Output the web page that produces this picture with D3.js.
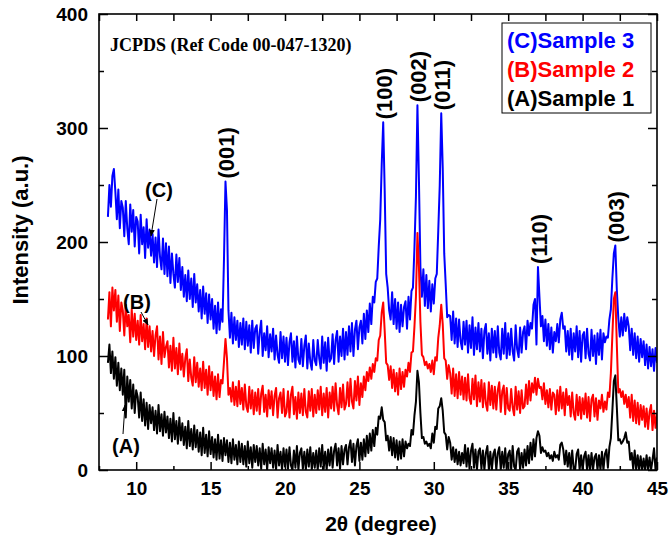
<!DOCTYPE html>
<html>
<head>
<meta charset="utf-8">
<script src="https://cdn.jsdelivr.net/npm/d3@7"></script>
<style>
  body { margin: 0; background: #fff; }
  text { font-family: Arial, "Liberation Sans", sans-serif; font-weight: bold; }
</style>
</head>
<body>
<script>

// scan grid (degrees 2-theta), one value every step
var thetaStart = 8.1,
    thetaStep = 0.1;

// (C) Sample 3, 8.1 .. 45.0
var sampleC = [
  222,250,231,258,264,244,220,246,212,236,
  230,205,236,212,198,233,209,228,196,222,
  218,190,224,198,213,186,220,195,211,188,
  207,182,204,178,211,187,176,203,172,199,
  170,196,164,190,172,160,189,165,186,158,
  178,152,171,148,175,150,168,143,172,147,
  163,139,158,133,161,137,155,129,154,132,
  150,124,144,120,147,123,141,130,185,253,
  228,140,116,138,111,134,114,131,108,129,
  110,133,106,130,109,127,103,131,107,124,
  127,102,121,131,100,120,105,126,99,119,
  104,124,97,118,101,94,121,98,117,95,
  116,92,112,120,95,113,90,117,97,93,
  115,91,109,118,89,111,95,88,114,96,
  92,114,98,89,117,94,112,87,116,95,
  98,119,93,114,122,95,117,100,124,97,
  121,101,126,104,129,100,123,131,106,125,
  131,111,137,115,140,121,146,128,152,147,
  165,168,196,220,268,305,245,172,160,140,
  132,156,128,150,124,147,121,145,126,143,
  148,124,152,132,157,160,195,240,320,255,
  178,152,176,144,171,142,166,139,163,146,
  168,172,210,250,313,265,190,163,134,136,
  135,114,139,111,133,108,132,113,106,130,
  110,131,103,127,107,134,101,125,106,129,
  104,124,98,122,128,102,120,96,124,103,
  122,99,126,103,97,124,102,129,98,120,
  101,124,104,96,127,106,99,125,103,121,
  126,106,131,118,129,124,145,150,110,178,
  152,126,135,113,132,109,128,106,125,103,
  121,113,128,112,132,138,124,126,104,122,
  101,124,97,120,104,126,99,122,95,118,
  121,98,124,102,96,123,100,118,93,120,
  101,123,97,120,112,117,116,132,141,168,
  190,197,158,133,117,134,118,137,122,134,
  126,105,124,101,120,98,117,95,115,99,
  113,92,110,89,108,91,106,87,107,94
];

// (B) Sample 2
var sampleB = [
  132,156,126,160,140,158,130,153,122,147,
  140,118,145,126,136,112,141,117,137,114,
  131,110,136,113,128,106,133,108,126,104,
  122,100,118,126,97,117,93,121,99,108,
  113,90,109,87,116,89,107,84,111,88,
  102,82,98,106,78,97,81,74,99,77,
  94,73,89,70,95,72,88,66,91,70,
  86,65,82,62,84,64,79,76,95,115,
  98,66,72,60,77,57,73,56,78,58,
  72,53,75,56,51,73,54,70,49,68,
  52,71,49,67,74,51,66,47,70,54,
  69,48,65,72,46,63,68,50,71,47,
  51,69,46,66,73,49,64,45,68,50,
  67,48,71,51,46,69,52,71,47,66,
  50,70,53,73,48,67,51,72,46,68,
  54,73,52,76,57,49,72,55,75,53,
  58,77,56,80,60,54,78,61,82,57,
  76,64,82,70,86,78,90,80,93,86,
  98,96,114,118,138,147,122,94,92,79,
  91,72,88,69,85,66,89,71,86,73,
  88,82,94,86,103,104,126,152,208,178,
  130,101,99,92,95,89,93,86,96,84,
  99,96,116,127,145,128,98,96,80,92,
  85,67,89,65,84,63,86,66,82,62,
  81,61,84,63,58,80,62,83,56,77,
  60,79,55,76,58,52,77,57,74,54,
  73,53,70,77,51,69,74,49,72,54,
  52,71,55,48,73,53,69,50,70,54,
  56,75,58,78,61,76,68,81,66,80,
  72,73,62,76,58,70,55,71,53,68,
  66,49,70,52,73,54,68,48,71,57,
  65,47,68,50,44,66,48,64,45,63,
  49,67,46,64,43,62,66,47,63,44,
  61,54,66,51,60,53,68,64,85,118,
  150,156,110,68,71,64,69,58,66,55,
  64,46,66,43,61,41,59,40,57,44,
  56,38,54,36,51,57,35,52,37,50
];

// (A) Sample 1
var sampleA = [
  94,110,85,104,80,99,74,94,70,89,
  66,88,46,82,60,79,54,75,50,70,
  64,46,68,43,62,39,59,36,57,41,
  55,35,52,32,57,34,49,30,51,33,
  47,28,45,25,50,27,43,23,46,26,
  41,22,38,19,43,21,36,18,39,20,
  35,16,33,13,37,15,31,12,34,14,
  29,11,27,9,31,10,26,8,28,13,
  26,7,24,6,27,9,22,5,25,7,
  23,5,21,3,25,6,20,2,22,7,
  21,4,19,1,23,5,18,0,20,6,
  19,2,17,0,22,4,16,0,19,3,
  18,1,20,4,0,17,2,21,0,15,
  19,1,16,0,18,3,20,0,15,2,
  17,0,19,3,22,1,16,0,18,4,
  20,2,17,23,4,19,1,21,5,18,
  22,5,20,26,7,23,4,21,27,8,
  24,9,27,12,30,15,32,17,35,21,
  37,31,47,45,55,44,42,26,30,17,
  29,13,28,11,26,9,25,10,27,12,
  25,19,23,21,35,31,48,60,87,77,
  50,28,29,23,25,21,23,19,32,24,
  38,36,54,56,63,52,33,31,18,29,
  24,9,20,7,18,5,16,4,15,6,
  22,3,19,1,17,23,2,18,0,16,
  19,1,17,0,15,21,0,16,0,14,
  18,0,15,20,0,16,2,19,0,14,
  17,0,21,3,0,16,19,0,15,2,
  18,4,21,6,24,9,27,12,28,34,
  30,15,20,16,17,12,15,10,13,8,
  16,11,13,9,22,24,18,5,17,3,
  15,0,17,1,0,14,18,0,13,0,
  12,16,0,13,0,15,0,11,14,0,
  13,0,16,0,14,18,2,20,28,52,
  78,83,55,26,27,23,25,28,33,24,
  25,9,15,1,17,0,13,0,12,0,
  10,0,13,0,11,0,9,19,0,11
];

var seriesNames = ["(C)Sample 3", "(B)Sample 2", "(A)Sample 1"];
var seriesColors = ["#0000ff", "#ff0000", "#000000"];

// Miller indices and where they sit (2-theta, peak height of top curve)
var peakLabels = ["(001)", "(100)", "(002)", "(011)", "(110)", "(003)"];
var peakTheta  = [16.0, 26.6, 28.9, 30.5, 37.0, 42.2];
var peakTop    = [253, 305, 320, 313, 178, 197];

var xTicks = [10, 15, 20, 25, 30, 35, 40, 45];
var yTicks = [0, 100, 200, 300, 400];


var width = 670,
    height = 545,
    margin = {top: 14, right: 13, bottom: 75, left: 99};

var svg = d3.select("body").append("svg")
    .attr("width", width)
    .attr("height", height);

var x = d3.scaleLinear().domain([7.5, 45]).range([margin.left, width - margin.right]);
var y = d3.scaleLinear().domain([0, 400]).range([height - margin.bottom, margin.top]);

svg.append("clipPath").attr("id", "plot")
  .append("rect")
    .attr("x", x(7.5)).attr("y", y(400))
    .attr("width", x(45) - x(7.5)).attr("height", y(0) - y(400));

var line = d3.line()
    .x(function(d) { return x(d[0]); })
    .y(function(d) { return y(d[1]); });

function toPoints(vals) {
  return vals.map(function(v, i) { return [thetaStart + i * thetaStep, v]; });
}

[sampleC, sampleB, sampleA].forEach(function(vals, k) {
  svg.append("path")
    .attr("clip-path", "url(#plot)")
    .attr("d", line(toPoints(vals)))
    .attr("fill", "none")
    .attr("stroke", seriesColors[k])
    .attr("stroke-width", 2)
    .attr("stroke-linejoin", "round");
});

// axes, all ticks pointing inward
var xMinor = d3.range(7.5, 45.01, 2.5).filter(function(t) { return xTicks.indexOf(t) < 0; });
var yMinor = [50, 150, 250, 350];

function styleAxis(g) {
  g.select(".domain").remove();
  g.selectAll("line").attr("stroke", "#000").attr("stroke-width", 1.5);
  g.selectAll("text").attr("font-size", 19).attr("fill", "#000")
    .style("font-family", "Arial, 'Liberation Sans', sans-serif").style("font-weight", "bold");
}

svg.append("g").attr("transform", "translate(0," + y(0) + ")")
  .call(d3.axisBottom(x).tickValues(xTicks).tickSize(-8).tickPadding(12).tickFormat(d3.format("d")))
  .call(styleAxis);
svg.append("g").attr("transform", "translate(0," + y(0) + ")")
  .call(d3.axisBottom(x).tickValues(xMinor).tickSize(-4).tickFormat(""))
  .call(styleAxis);
svg.append("g").attr("transform", "translate(0," + y(400) + ")")
  .call(d3.axisTop(x).tickValues(xTicks.concat(xMinor)).tickSize(-7).tickFormat(""))
  .call(styleAxis);

svg.append("g").attr("transform", "translate(" + x(7.5) + ",0)")
  .call(d3.axisLeft(y).tickValues(yTicks).tickSize(-9).tickPadding(11))
  .call(styleAxis);
svg.append("g").attr("transform", "translate(" + x(7.5) + ",0)")
  .call(d3.axisLeft(y).tickValues(yMinor).tickSize(-5).tickFormat(""))
  .call(styleAxis);
svg.append("g").attr("transform", "translate(" + x(45) + ",0)")
  .call(d3.axisRight(y).tickValues(yTicks).tickSize(-9).tickFormat(""))
  .call(styleAxis);
svg.append("g").attr("transform", "translate(" + x(45) + ",0)")
  .call(d3.axisRight(y).tickValues(yMinor).tickSize(-5).tickFormat(""))
  .call(styleAxis);

svg.append("rect")
    .attr("x", x(7.5)).attr("y", y(400))
    .attr("width", x(45) - x(7.5)).attr("height", y(0) - y(400))
    .attr("fill", "none").attr("stroke", "#000").attr("stroke-width", 1.6);

// axis titles
svg.append("text")
    .attr("transform", "translate(20," + 230 + ") rotate(-90)")
    .attr("text-anchor", "middle")
    .attr("dy", "0.35em")
    .attr("font-size", 22)
    .text("Intensity (a.u.)");

svg.append("text")
    .attr("x", (x(7.5) + x(45)) / 2 + 3)
    .attr("y", 531)
    .attr("text-anchor", "middle")
    .attr("font-size", 21)
    .text("2\u03b8 (degree)");

svg.append("text")
    .attr("x", 110).attr("y", 51)
    .style("font-family", "'Liberation Serif', 'Times New Roman', serif")
    .attr("font-size", 18)
    .text("JCPDS (Ref Code 00-047-1320)");

// peak labels, rotated
peakLabels.forEach(function(lbl, i) {
  var px = x(peakTheta[i]) + 1, py = y(peakTop[i]) - 3;
  svg.append("text")
      .attr("transform", "translate(" + px + "," + py + ") rotate(-90)")
      .attr("dy", "0.36em")
      .attr("font-size", 22)
      .text(lbl);
});

// legend
var legend = svg.append("g");
legend.append("rect")
    .attr("x", 502).attr("y", 23).attr("width", 149).attr("height", 90)
    .attr("fill", "#fff").attr("stroke", "#000").attr("stroke-width", 1);
seriesNames.forEach(function(name, i) {
  legend.append("text")
      .attr("x", 507).attr("y", 48 + i * 29)
      .attr("font-size", 22)
      .attr("fill", seriesColors[i])
      .text(name);
});

// curve tags with arrows
svg.append("defs").append("marker")
    .attr("id", "arr").attr("viewBox", "0 0 10 10")
    .attr("refX", 9).attr("refY", 5)
    .attr("markerWidth", 7).attr("markerHeight", 7)
    .attr("orient", "auto")
  .append("path").attr("d", "M0,1L10,5L0,9z").attr("fill", "#000");

var tags = [
  {t: "(C)", tx: 159, ty: 190, a: [157, 199, 151, 236]},
  {t: "(B)", tx: 137, ty: 302, a: [141, 312, 148, 325]},
  {t: "(A)", tx: 126, ty: 446, a: [123, 434, 125, 405]}
];
tags.forEach(function(d) {
  svg.append("text")
      .attr("x", d.tx).attr("y", d.ty)
      .attr("dy", "0.35em")
      .attr("text-anchor", "middle")
      .attr("font-size", 20)
      .text(d.t);
  svg.append("line")
      .attr("x1", d.a[0]).attr("y1", d.a[1]).attr("x2", d.a[2]).attr("y2", d.a[3])
      .attr("stroke", "#000").attr("stroke-width", 1)
      .attr("marker-end", "url(#arr)");
});

</script>
</body>
</html>
